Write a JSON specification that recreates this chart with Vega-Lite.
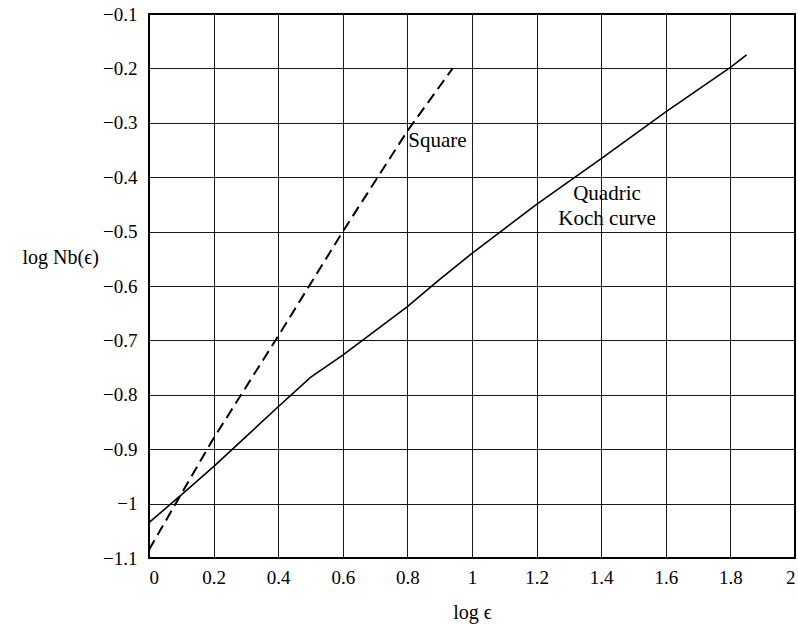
{
  "$schema": "https://vega.github.io/schema/vega-lite/v6.json",
  "width": 646,
  "height": 544,
  "autosize": {"type": "none"},
  "padding": {"left": 149, "top": 14, "right": 3, "bottom": 66},
  "background": "white",
  "config": {
    "font": "Liberation Serif",
    "view": {"stroke": "black", "strokeWidth": 2},
    "axis": {
      "labelFont": "Liberation Serif",
      "labelFontSize": 19,
      "labelColor": "black",
      "titleFont": "Liberation Serif",
      "titleFontSize": 20,
      "titleFontWeight": "normal",
      "titleColor": "black",
      "ticks": false,
      "domain": false,
      "grid": true,
      "gridColor": "black",
      "gridWidth": 1,
      "gridOpacity": 0.9
    }
  },
  "datasets": {
    "curves": [
      {"curve": "Square", "loge": 0, "logN": -1.085},
      {"curve": "Square", "loge": 0.1, "logN": -0.982},
      {"curve": "Square", "loge": 0.2, "logN": -0.88},
      {"curve": "Square", "loge": 0.4, "logN": -0.692},
      {"curve": "Square", "loge": 0.6, "logN": -0.5},
      {"curve": "Square", "loge": 0.8, "logN": -0.315},
      {"curve": "Square", "loge": 0.94, "logN": -0.2},
      {"curve": "Quadric Koch curve", "loge": 0, "logN": -1.035},
      {"curve": "Quadric Koch curve", "loge": 0.1, "logN": -0.984},
      {"curve": "Quadric Koch curve", "loge": 0.2, "logN": -0.932},
      {"curve": "Quadric Koch curve", "loge": 0.4, "logN": -0.822},
      {"curve": "Quadric Koch curve", "loge": 0.5, "logN": -0.768},
      {"curve": "Quadric Koch curve", "loge": 0.6, "logN": -0.727},
      {"curve": "Quadric Koch curve", "loge": 0.8, "logN": -0.638},
      {"curve": "Quadric Koch curve", "loge": 0.9, "logN": -0.588},
      {"curve": "Quadric Koch curve", "loge": 1.0, "logN": -0.54},
      {"curve": "Quadric Koch curve", "loge": 1.1, "logN": -0.495},
      {"curve": "Quadric Koch curve", "loge": 1.2, "logN": -0.45},
      {"curve": "Quadric Koch curve", "loge": 1.4, "logN": -0.366},
      {"curve": "Quadric Koch curve", "loge": 1.6, "logN": -0.28},
      {"curve": "Quadric Koch curve", "loge": 1.8, "logN": -0.198},
      {"curve": "Quadric Koch curve", "loge": 1.85, "logN": -0.175}
    ],
    "labels": [
      {"text": "Square", "loge": 0.803, "logN": -0.345, "align": "left"},
      {"text": "Quadric", "loge": 1.418, "logN": -0.441, "align": "center"},
      {"text": "Koch curve", "loge": 1.418, "logN": -0.487, "align": "center"}
    ]
  },
  "encoding": {
    "x": {
      "field": "loge",
      "type": "quantitative",
      "scale": {"domain": [0, 2], "nice": false, "zero": false},
      "axis": {
        "values": [0, 0.2, 0.4, 0.6, 0.8, 1, 1.2, 1.4, 1.6, 1.8, 2],
        "format": "~g",
        "labelPadding": 10,
        "title": "log ϵ",
        "titleY": 60,
        "titleBaseline": "alphabetic"
      }
    },
    "y": {
      "field": "logN",
      "type": "quantitative",
      "scale": {"domain": [-1.1, -0.1], "nice": false, "zero": false},
      "axis": {
        "values": [-1.1, -1, -0.9, -0.8, -0.7, -0.6, -0.5, -0.4, -0.3, -0.2, -0.1],
        "format": "~g",
        "labelPadding": 12,
        "title": "log Nb(ϵ)",
        "titleAngle": 0,
        "titleAlign": "left",
        "titleX": -127,
        "titleY": 249,
        "titleBaseline": "alphabetic"
      }
    }
  },
  "layer": [
    {
      "data": {"name": "curves"},
      "transform": [{"filter": "datum.curve === 'Square'"}],
      "mark": {"type": "line", "color": "black", "strokeWidth": 2, "strokeDash": [11, 6]}
    },
    {
      "data": {"name": "curves"},
      "transform": [{"filter": "datum.curve === 'Quadric Koch curve'"}],
      "mark": {"type": "line", "color": "black", "strokeWidth": 1.6}
    },
    {
      "data": {"name": "labels"},
      "transform": [{"filter": "datum.align === 'left'"}],
      "mark": {"type": "text", "font": "Liberation Serif", "fontSize": 21, "color": "black", "baseline": "alphabetic", "align": "left"},
      "encoding": {"text": {"field": "text"}}
    },
    {
      "data": {"name": "labels"},
      "transform": [{"filter": "datum.align === 'center'"}],
      "mark": {"type": "text", "font": "Liberation Serif", "fontSize": 21, "color": "black", "baseline": "alphabetic", "align": "center"},
      "encoding": {"text": {"field": "text"}}
    }
  ]
}
